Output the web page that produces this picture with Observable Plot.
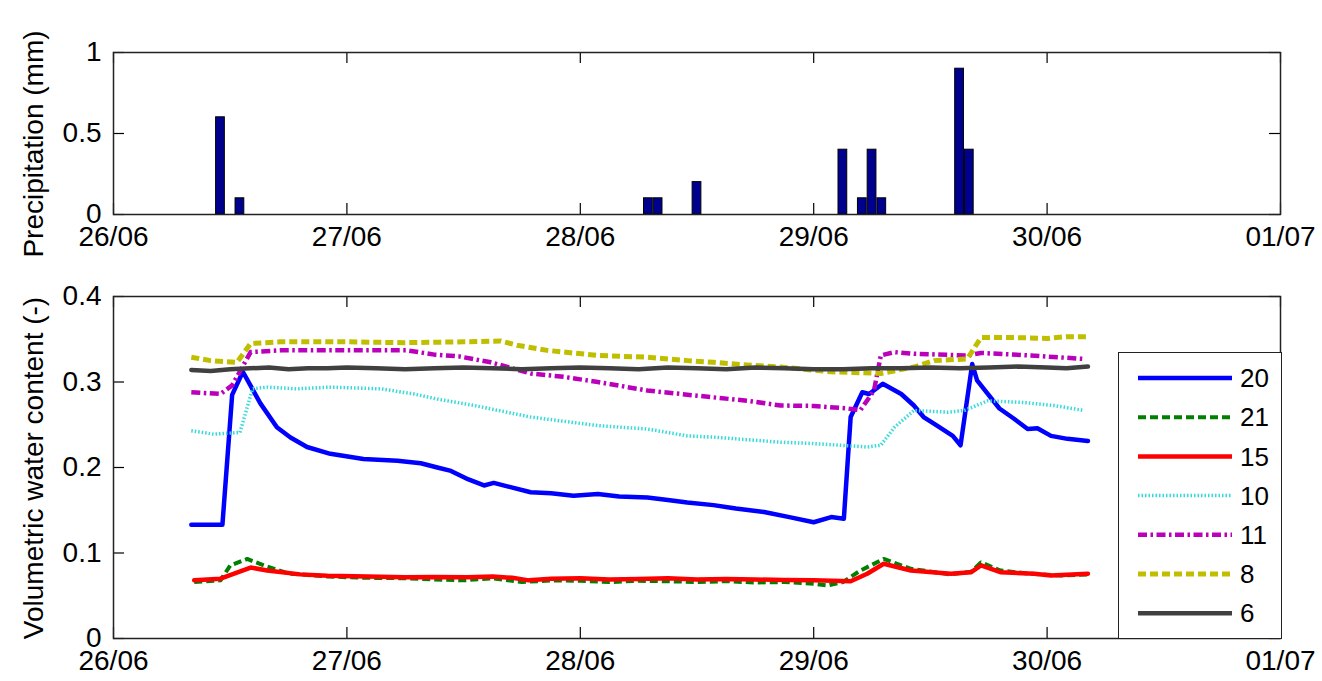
<!DOCTYPE html>
<html>
<head>
<meta charset="utf-8">
<script src="https://cdn.jsdelivr.net/npm/d3@7"></script>
<script src="https://cdn.jsdelivr.net/npm/@observablehq/plot@0.6"></script>
<style>
  body { margin: 0; background: white; }
  #wrap { position: relative; width: 1322px; height: 681px; background: white; font-family: "Liberation Sans", Arial, sans-serif; overflow: hidden; }
  #wrap > .panel { position: absolute; left: 0; }
  .ylab { position: absolute; font-size: 28px; white-space: nowrap; transform: translate(-50%, -50%) rotate(-90deg); color: black; }
  #legend { position: absolute; left: 1118px; top: 352px; width: 162px; height: 285px; border: 1.5px solid #222; background: white; }
</style>
</head>
<body>
<div id="wrap"></div>
<script>
// ---------- DATA ----------
const xTickLabels = ["26/06", "27/06", "28/06", "29/06", "30/06", "01/07"]; // day 0..5
const precipTicks = [0, 0.5, 1];
const vwcTicks = [0, 0.1, 0.2, 0.3, 0.4];

// precipitation: hour since 26/06 00:00, mm
const precipHours = [11, 13, 55, 56, 60, 75, 77, 78, 79, 87, 88];
const precipMm    = [0.6, 0.1, 0.1, 0.1, 0.2, 0.4, 0.1, 0.4, 0.1, 0.9, 0.4];

// volumetric water content series: [hour since 26/06 00:00, value]
const s20 = [[8,0.133],[11.2,0.133],[12.2,0.285],[13.3,0.312],[15.1,0.275],[16.8,0.247],[18.2,0.235],[19.9,0.224],[22.3,0.216],[25.7,0.210],[29.2,0.208],[31.6,0.205],[33.3,0.200],[34.7,0.196],[36.5,0.186],[38.1,0.179],[39.1,0.182],[40.5,0.178],[42.9,0.171],[45,0.170],[47.3,0.167],[49.8,0.169],[52,0.166],[54.9,0.165],[57,0.162],[59,0.159],[61.7,0.156],[64,0.152],[66.9,0.148],[69.5,0.142],[72,0.136],[73.8,0.142],[75.1,0.140],[75.8,0.259],[77,0.288],[77.7,0.286],[79.1,0.298],[81,0.286],[82.3,0.2725],[83.3,0.259],[84.4,0.251],[86.3,0.237],[87.1,0.226],[88.3,0.321],[88.8,0.302],[89.9,0.286],[91.1,0.269],[92.6,0.257],[94,0.245],[95,0.246],[96.4,0.237],[98.1,0.2335],[100.2,0.231]];
const s21 = [[8.3,0.066],[11,0.068],[12,0.0854],[13.75,0.093],[15.5,0.0854],[18,0.076],[22,0.0725],[26,0.071],[30,0.0705],[33,0.069],[36,0.068],[39,0.0705],[42,0.066],[45,0.068],[48,0.0675],[51,0.066],[54,0.0675],[57,0.067],[60,0.066],[63,0.067],[66,0.0655],[69,0.066],[72,0.064],[73.4,0.062],[75,0.066],[76.8,0.0795],[79.2,0.093],[82,0.0815],[86,0.075],[88.2,0.078],[89.2,0.089],[91.2,0.0795],[94,0.076],[97.4,0.0737],[100.2,0.075]];
const s15 = [[8.3,0.068],[11,0.070],[14.1,0.083],[15.8,0.0795],[19.2,0.075],[22,0.0735],[26.1,0.0725],[30,0.0715],[33,0.072],[36.4,0.0717],[39,0.0725],[41,0.071],[42.7,0.068],[45,0.070],[48,0.0705],[51,0.069],[54,0.0695],[57,0.0705],[60,0.069],[63,0.0695],[66,0.069],[69,0.0685],[72,0.068],[75.8,0.067],[77.5,0.0757],[79.2,0.0874],[82,0.0795],[86.1,0.0757],[88.2,0.0776],[89.2,0.0854],[91.2,0.0776],[94.7,0.0757],[96.4,0.0737],[100.2,0.0757]];
const s10 = [[8,0.243],[10.3,0.239],[13,0.241],[14.3,0.292],[15.8,0.294],[18.9,0.292],[22.3,0.294],[27.5,0.292],[30.9,0.286],[33.3,0.280],[37.1,0.2725],[42.9,0.259],[49.8,0.249],[54.9,0.245],[59,0.237],[61.7,0.2355],[68.6,0.2296],[72,0.228],[77.5,0.224],[78.9,0.226],[80.3,0.247],[82.3,0.2667],[85.8,0.2647],[87.5,0.2667],[89.9,0.278],[93.6,0.276],[96.7,0.2725],[99.8,0.2667]];
const s11 = [[8,0.288],[11,0.286],[12.2,0.296],[14.1,0.335],[17.2,0.337],[24,0.337],[30.2,0.337],[33,0.332],[35.5,0.330],[38.8,0.323],[42.9,0.310],[46.3,0.306],[49.8,0.300],[54.9,0.290],[60,0.284],[65.2,0.278],[68.6,0.2725],[72,0.272],[75.5,0.269],[76.8,0.267],[78.2,0.290],[78.9,0.331],[80.3,0.335],[82.3,0.333],[87.8,0.331],[89.2,0.334],[94.3,0.331],[99.8,0.327]];
const s8  = [[8,0.329],[10,0.325],[12.7,0.323],[14.1,0.345],[17.2,0.347],[24,0.347],[30,0.346],[36,0.347],[39.8,0.348],[41.5,0.343],[44.6,0.337],[49.8,0.331],[54.9,0.329],[59,0.325],[61.7,0.323],[65,0.320],[68.6,0.3175],[73.8,0.312],[78.9,0.310],[82.3,0.3175],[84.4,0.325],[87.8,0.327],[89.2,0.352],[92.6,0.352],[96,0.351],[98,0.353],[100.2,0.353]];
const s6  = [[8,0.314],[10,0.313],[12,0.315],[14,0.316],[16,0.317],[18,0.315],[20,0.316],[22,0.316],[24,0.317],[27,0.316],[30,0.315],[33,0.316],[36,0.317],[39,0.316],[42,0.315],[45,0.316],[48,0.317],[51,0.316],[54,0.315],[57,0.317],[60,0.316],[63,0.315],[66,0.317],[69,0.316],[72,0.315],[75,0.315],[78,0.316],[81,0.316],[84,0.317],[87,0.316],[90,0.317],[93,0.318],[96,0.317],[98,0.316],[100.2,0.318]];

const seriesNames = ["20", "21", "15", "10", "11", "8", "6"];
const seriesData = [s20, s21, s15, s10, s11, s8, s6];

// ---------- STYLES ----------
const seriesStyle = {
  "20": {stroke: "#0000ff", strokeWidth: 4.5, dash: null},
  "21": {stroke: "#008000", strokeWidth: 4, dash: "8,4"},
  "15": {stroke: "#ff0000", strokeWidth: 4.5, dash: null},
  "10": {stroke: "#35dada", strokeWidth: 3.5, dash: "1.5,2"},
  "11": {stroke: "#bb00bb", strokeWidth: 4.5, dash: "9,3.5,2.5,3.5"},
  "8":  {stroke: "#bfbf00", strokeWidth: 5, dash: "8,4"},
  "6":  {stroke: "#404040", strokeWidth: 4.5, dash: null}
};

const W = 1322, LEFT = 113, RIGHT = 42, TICK = 11;
const font = {fontFamily: "'Liberation Sans', Arial, sans-serif", fontSize: "28px", color: "black", background: "white", overflow: "visible"};
const xTicks = xTickLabels.map((_, i) => i);

function frameTicks(yTicks, plotH, plotW) {
  return [
    Plot.tickX(xTicks, {x: d => d, insetTop: plotH - TICK, stroke: "black", strokeWidth: 1.2}),
    Plot.tickX(xTicks, {x: d => d, insetBottom: plotH - TICK, stroke: "black", strokeWidth: 1.2}),
    Plot.tickY(yTicks, {y: d => d, insetRight: plotW - TICK, stroke: "black", strokeWidth: 1.2}),
    Plot.tickY(yTicks, {y: d => d, insetLeft: plotW - TICK, stroke: "black", strokeWidth: 1.2})
  ];
}

// ---------- TOP PANEL ----------
const topH = 260, topMT = 52, topMB = 46;
const precip = precipHours.map((h, i) => ({h, mm: precipMm[i]}));
const topPlot = Plot.plot({
  width: W, height: topH,
  marginLeft: LEFT, marginRight: RIGHT, marginTop: topMT, marginBottom: topMB,
  style: font,
  x: {type: "linear", domain: [0, 5]},
  y: {domain: [0, 1]},
  marks: [
    Plot.rectY(precip, {x1: d => (d.h - 0.45) / 24, x2: d => (d.h + 0.45) / 24, y1: 0, y2: "mm", fill: "#00008f", stroke: "black", strokeWidth: 1}),
    ...frameTicks(precipTicks, topH - topMT - topMB, W - LEFT - RIGHT),
    Plot.frame({stroke: "#222", strokeWidth: 1.5}),
    Plot.axisX(xTicks, {tickFormat: d => xTickLabels[d], tickSize: 0, tickPadding: 12, label: null}),
    Plot.axisY(precipTicks, {tickFormat: d => String(d), tickSize: 0, tickPadding: 12, label: null})
  ]
});
topPlot.classList.add("panel");
topPlot.style.top = "0px";

// ---------- BOTTOM PANEL ----------
const botTop = 260, botH = 421, botMT = 36, botMB = 43;
const lineMarks = seriesNames.map((name, i) => {
  const st = seriesStyle[name];
  return Plot.line(seriesData[i], {
    x: d => d[0] / 24, y: d => d[1],
    stroke: st.stroke, strokeWidth: st.strokeWidth,
    strokeDasharray: st.dash, strokeLinejoin: "round", strokeLinecap: st.dash ? "butt" : "round"
  });
});
const botPlot = Plot.plot({
  width: W, height: botH,
  marginLeft: LEFT, marginRight: RIGHT, marginTop: botMT, marginBottom: botMB,
  style: font,
  x: {type: "linear", domain: [0, 5]},
  y: {domain: [0, 0.4]},
  marks: [
    ...lineMarks,
    ...frameTicks(vwcTicks, botH - botMT - botMB, W - LEFT - RIGHT),
    Plot.frame({stroke: "#222", strokeWidth: 1.5}),
    Plot.axisX(xTicks, {tickFormat: d => xTickLabels[d], tickSize: 0, tickPadding: 12, label: null}),
    Plot.axisY(vwcTicks, {tickFormat: d => String(d), tickSize: 0, tickPadding: 12, label: null})
  ]
});
botPlot.classList.add("panel");
botPlot.style.top = botTop + "px";

const wrap = document.getElementById("wrap");
wrap.appendChild(topPlot);
wrap.appendChild(botPlot);

// ---------- Y TITLES ----------
function yTitle(text, cx, cy) {
  const d = document.createElement("div");
  d.className = "ylab";
  d.textContent = text;
  d.style.left = cx + "px";
  d.style.top = cy + "px";
  wrap.appendChild(d);
}
yTitle("Precipitation (mm)", 34, 144);
yTitle("Volumetric water content (-)", 34, 468);

// ---------- LEGEND ----------
const leg = document.createElement("div");
leg.id = "legend";
const ns = "http://www.w3.org/2000/svg";
const lsvg = document.createElementNS(ns, "svg");
lsvg.setAttribute("width", 162);
lsvg.setAttribute("height", 285);
seriesNames.forEach((name, i) => {
  const st = seriesStyle[name];
  const cy = 25 + i * 39.2;
  const ln = document.createElementNS(ns, "line");
  ln.setAttribute("x1", 19); ln.setAttribute("x2", 113);
  ln.setAttribute("y1", cy); ln.setAttribute("y2", cy);
  ln.setAttribute("stroke", st.stroke);
  ln.setAttribute("stroke-width", st.strokeWidth);
  if (st.dash) ln.setAttribute("stroke-dasharray", st.dash);
  lsvg.appendChild(ln);
  const tx = document.createElementNS(ns, "text");
  tx.setAttribute("x", 121); tx.setAttribute("y", cy);
  tx.setAttribute("dy", "0.35em");
  tx.setAttribute("font-size", "26");
  tx.setAttribute("font-family", "'Liberation Sans', Arial, sans-serif");
  tx.textContent = name;
  lsvg.appendChild(tx);
});
leg.appendChild(lsvg);
wrap.appendChild(leg);
</script>
</body>
</html>
